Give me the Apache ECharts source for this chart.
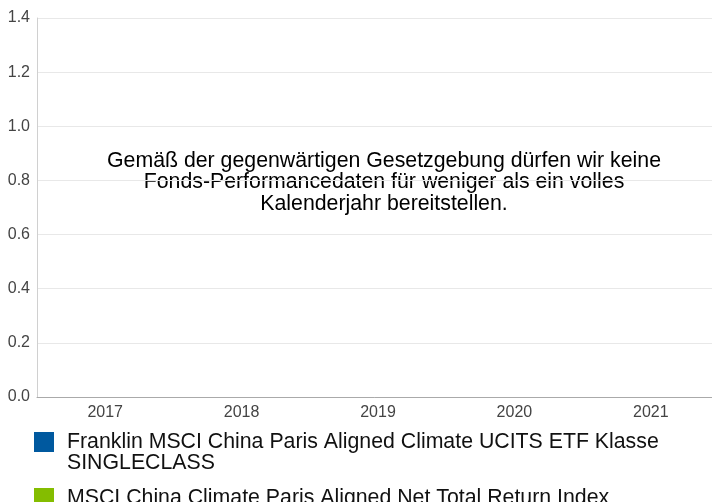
<!DOCTYPE html>
<html>
<head>
<meta charset="utf-8">
<script src="https://cdn.jsdelivr.net/npm/echarts@6/dist/echarts.min.js"></script>
<style>
  html, body { margin: 0; padding: 0; background: #fff; }
  #chart { width: 712px; height: 502px; }
</style>
</head>
<body>
<div id="chart"></div>
<script>
var years = ['2017', '2018', '2019', '2020', '2021'];
var seriesNames = [
  'Franklin MSCI China Paris Aligned Climate UCITS ETF Klasse SINGLECLASS',
  'MSCI China Climate Paris Aligned Net Total Return Index'
];
// legend text as it wraps in the picture (leading empty line keeps the square on the first line)
var legendLabels = [
  '\nFranklin MSCI China Paris Aligned Climate UCITS ETF Klasse\nSINGLECLASS',
  'MSCI China Climate Paris Aligned Net Total Return Index'
];
var seriesColors = ['#00599f', '#84bd00'];
// no performance data is shown
var fundValues = [];
var indexValues = [];
var noticeText = 'Gemäß der gegenwärtigen Gesetzgebung dürfen wir keine\nFonds-Performancedaten für weniger als ein volles\nKalenderjahr bereitstellen.';

var chart = echarts.init(document.getElementById('chart'));

var option = {
  animation: false,
  textStyle: { fontFamily: 'Liberation Sans, Arial, sans-serif' },
  grid: { left: 37, top: 18, width: 682, bottom: 105, outerBoundsMode: 'none', containLabel: false },
  xAxis: {
    type: 'category',
    data: years,
    boundaryGap: true,
    axisLine: { lineStyle: { color: '#aaaaaa', width: 1 } },
    axisTick: { show: false },
    axisLabel: { color: '#444', fontSize: 16, margin: 8 },
    splitLine: { show: false }
  },
  yAxis: {
    type: 'value',
    min: 0,
    max: 1.4,
    interval: 0.2,
    axisLine: { show: true, lineStyle: { color: '#d0d0d0' } },
    axisTick: { show: false },
    axisLabel: {
      color: '#444',
      fontSize: 16,
      margin: 7,
      formatter: function (v) { return v.toFixed(1); }
    },
    splitLine: { lineStyle: { color: '#e8e8e8' } }
  },
  legend: {
    orient: 'vertical',
    left: 34,
    top: 410.5,
    padding: 0,
    itemGap: 14,
    itemWidth: 28,
    itemHeight: 20,
    icon: 'square',
    selectedMode: false,
    textStyle: { color: '#111', fontSize: 21.3, lineHeight: 21 },
    formatter: function (name) {
      return legendLabels[seriesNames.indexOf(name)];
    },
    data: seriesNames
  },
  graphic: [{
    type: 'text',
    x: 384,
    y: 150,
    style: {
      text: noticeText,
      fill: '#000',
      font: '21.3px "Liberation Sans", Arial, sans-serif',
      lineHeight: 21.5,
      align: 'center'
    }
  }],
  series: [
    { name: seriesNames[0], type: 'line', data: fundValues, itemStyle: { color: seriesColors[0] } },
    { name: seriesNames[1], type: 'line', data: indexValues, itemStyle: { color: seriesColors[1] } }
  ]
};

chart.setOption(option);
</script>
</body>
</html>
